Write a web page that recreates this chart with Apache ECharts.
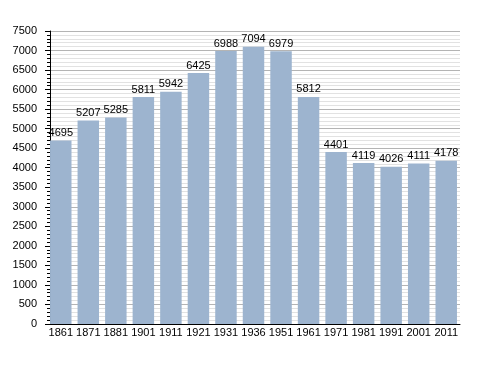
<!DOCTYPE html>
<html><head><meta charset="utf-8">
<script src="https://cdn.jsdelivr.net/npm/echarts@6/dist/echarts.min.js"></script>
<style>html,body{margin:0;padding:0;background:#fff}#c{width:488px;height:373px}</style>
</head><body><div id="c"></div>
<script>
const categories = ['1861','1871','1881','1901','1911','1921','1931','1936','1951','1961','1971','1981','1991','2001','2011'];
const population = [4695,5207,5285,5811,5942,6425,6988,7094,6979,5812,4401,4119,4026,4111,4178];
const yMin = 0, yMax = 7500, yInterval = 500;

const chart = echarts.init(document.getElementById('c'), null, {renderer:'canvas'});
chart.setOption({
  animation:false,
  grid:{left:47,right:28,top:31,bottom:49,containLabel:false},
  xAxis:{
    type:'category', data:categories,
    axisLine:{lineStyle:{color:'#000',width:1}},
    axisTick:{show:false},
    axisLabel:{interval:0,hideOverlap:false,color:'#000',fontFamily:'Liberation Sans, Arial, sans-serif',fontSize:11,margin:3}
  },
  yAxis:{
    type:'value', min:yMin, max:yMax, interval:yInterval, offset:-3,
    axisLine:{show:true,lineStyle:{color:'#000',width:1}},
    axisTick:{show:true,inside:false,length:5,lineStyle:{color:'#000'}},
    minorTick:{show:true,splitNumber:5,length:3,lineStyle:{color:'#000'}},
    axisLabel:{formatter:v=>String(v),color:'#000',fontFamily:'Liberation Sans, Arial, sans-serif',fontSize:11,margin:13},
    splitLine:{show:true,lineStyle:{color:'#b4b4b4',width:1}},
    minorSplitLine:{show:true,lineStyle:{color:'#e2e2e2',width:1}}
  },
  series:[{
    type:'bar', data:population, barCategoryGap:'22%',
    itemStyle:{color:'#9db4cf'},
    label:{show:true,position:'top',distance:2,color:'#000',fontFamily:'Liberation Sans, Arial, sans-serif',fontSize:11}
  }]
});
</script></body></html>
